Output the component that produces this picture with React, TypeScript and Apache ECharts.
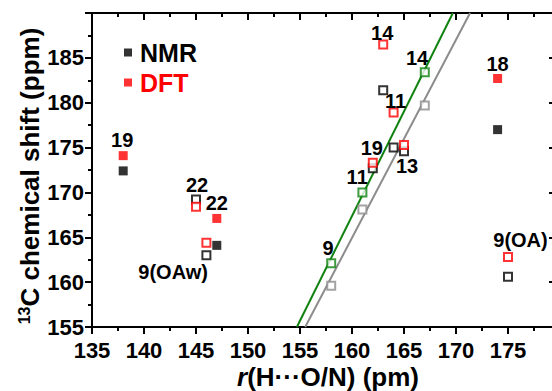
import React, { useEffect, useRef } from "react";
import * as echarts from "echarts";

// ---- data (x: r(H...O/N) in pm, y: 13C shift in ppm) ----
const nmrFilled: number[][] = [[138, 172.4], [147, 164.1], [174, 177.0]];
const dftFilled: number[][] = [[138, 174.1], [147, 167.1], [174, 182.7]];
const nmrOpen: number[][] = [
  [145, 169.2], [146, 163.0], [175, 160.6], [163, 181.4], [164, 175.0], [165, 174.6], [162, 172.7],
];
const dftOpen: number[][] = [
  [145, 168.4], [146, 164.4], [175, 162.8], [163, 186.5], [164, 178.9], [165, 175.3], [162, 173.3],
];
const greenOpen: number[][] = [[158, 162.1], [161, 170.0], [167, 183.4]];
const greyOpen: number[][] = [[158, 159.6], [161, 168.1], [167, 179.7]];
const greenFit: number[][] = [[154.7, 155], [169.7, 190]];
const greyFit: number[][] = [[155.5, 155], [171.35, 190]];
const pointLabels: (number | string)[][] = [
  [137.9, 175.8, "19"],
  [145.1, 170.8, "22"],
  [147.0, 168.8, "22"],
  [142.8, 161.1, "9(OAw)"],
  [162.9, 187.8, "14"],
  [166.25, 185.0, "14"],
  [164.2, 180.2, "11"],
  [161.9, 175.0, "19"],
  [165.3, 172.9, "13"],
  [160.5, 171.7, "11"],
  [157.7, 163.8, "9"],
  [174.0, 184.3, "18"],
  [176.2, 164.7, "9(OA)"],
];
const xMin = 135, xMax = 180, xStep = 5;
const yMin = 155, yMax = 190, yStep = 5;

const FONT = '"Liberation Sans", Arial, Helvetica, sans-serif';
const RED = "#ff0000";
const GREEN = "#0f820f";
const GREY = "#8c8c8c";

export default function App() {
  const ref = useRef<HTMLDivElement>(null);
  useEffect(() => {
    if (!ref.current) return;
    const chart = echarts.init(ref.current, undefined, { renderer: "svg" });
    const axisLine = { show: true, onZero: false, lineStyle: { color: "#000", width: 2 } };
    const openSeries = (name: string, data: number[][], color: string, z: number) => ({
      name, type: "scatter", data, symbol: "rect", symbolSize: 8, z,
      itemStyle: { color: "#fff", borderColor: color, borderWidth: 2 },
    });
    chart.setOption({
      animation: false,
      backgroundColor: "#fff",
      grid: { left: 92, top: 13, width: 468, height: 314 },
      legend: {
        left: 119, top: 35, orient: "vertical", itemWidth: 8, itemHeight: 8, itemGap: 5,
        icon: "rect", selectedMode: false,
        textStyle: { fontFamily: FONT, fontSize: 25, fontWeight: "bold", padding: [0, 0, 0, 3] },
        data: [
          { name: "NMR", textStyle: { color: "#000" } },
          { name: "DFT", textStyle: { color: RED } },
        ],
      },
      xAxis: [
        {
          type: "value", min: xMin, max: xMax, interval: xStep, position: "bottom",
          axisLine, splitLine: { show: false },
          axisTick: { show: true, inside: false, length: 7, lineStyle: { width: 2, color: "#000" } },
          minorTick: { show: true, splitNumber: 2, length: 4, lineStyle: { width: 2, color: "#000" } },
          axisLabel: { margin: 12, color: "#000", fontFamily: FONT, fontSize: 22, fontWeight: "bold", showMaxLabel: false },
        },
        {
          type: "value", min: xMin, max: xMax, interval: xStep, position: "top",
          axisLine, splitLine: { show: false },
          axisTick: { show: true, inside: true, length: 7, lineStyle: { width: 2, color: "#000" } },
          minorTick: { show: true, splitNumber: 2, length: 4, lineStyle: { width: 2, color: "#000" } },
          axisLabel: { show: false },
        },
      ],
      yAxis: [
        {
          type: "value", min: yMin, max: yMax, interval: yStep, position: "left",
          axisLine, splitLine: { show: false },
          axisTick: { show: true, inside: false, length: 7, lineStyle: { width: 2, color: "#000" } },
          minorTick: { show: true, splitNumber: 2, length: 4, lineStyle: { width: 2, color: "#000" } },
          axisLabel: { margin: 8, color: "#000", fontFamily: FONT, fontSize: 22, fontWeight: "bold", showMaxLabel: false },
        },
        {
          type: "value", min: yMin, max: yMax, interval: yStep, position: "right",
          axisLine, splitLine: { show: false },
          axisTick: { show: true, inside: true, length: 11, lineStyle: { width: 2, color: "#000" } },
          minorTick: { show: true, splitNumber: 2, length: 5, lineStyle: { width: 2, color: "#000" } },
          axisLabel: { show: false },
        },
      ],
      series: [
        { name: "greenFit", type: "line", data: greenFit, symbol: "none", z: 1, lineStyle: { color: GREEN, width: 2 } },
        { name: "greyFit", type: "line", data: greyFit, symbol: "none", z: 1, lineStyle: { color: GREY, width: 2 } },
        openSeries("nmrOpen", nmrOpen, "#000", 2),
        openSeries("dftOpen", dftOpen, RED, 3),
        openSeries("greenOpen", greenOpen, GREEN, 3),
        openSeries("greyOpen", greyOpen, GREY, 3),
        { name: "NMR", type: "scatter", data: nmrFilled, symbol: "rect", symbolSize: 9, z: 4, itemStyle: { color: "#000" } },
        { name: "DFT", type: "scatter", data: dftFilled, symbol: "rect", symbolSize: 9, z: 4, itemStyle: { color: RED } },
        {
          name: "labels", type: "scatter", data: pointLabels, symbolSize: 1, z: 5,
          itemStyle: { color: "rgba(255,255,255,0)" },
          label: {
            show: true, position: "inside", color: "#000", fontFamily: FONT, fontSize: 20, fontWeight: "bold",
            textBorderWidth: 0, opacity: 1,
            formatter: (p: any) => String(p.data[2]),
          },
        },
      ],
      graphic: [
        {
          type: "text", x: 30, y: 176, rotation: Math.PI / 2,
          style: {
            text: "{sup|13}{m|C chemical shift (ppm)}",
            align: "center", verticalAlign: "middle",
            rich: {
              sup: { fontFamily: FONT, fontSize: 16, fontWeight: "bold", fill: "#000", lineHeight: 16, verticalAlign: "top" },
              m: { fontFamily: FONT, fontSize: 26, fontWeight: "bold", fill: "#000", lineHeight: 28 },
            },
          },
        },
        {
          type: "text", x: 328, y: 377,
          style: {
            text: "{i|r}{m|(H···O/N) (pm)}",
            align: "center", verticalAlign: "middle",
            rich: {
              i: { fontFamily: FONT, fontSize: 26, fontWeight: "bold", fontStyle: "italic", fill: "#000", lineHeight: 26 },
              m: { fontFamily: FONT, fontSize: 26, fontWeight: "bold", fill: "#000", lineHeight: 26 },
            },
          },
        },
      ],
    });
    return () => chart.dispose();
  }, []);
  return (
    <div style={{ position: "fixed", left: 0, top: 0, width: 552, height: 391, overflow: "hidden", background: "#fff" }}>
      <div ref={ref} style={{ position: "absolute", left: 0, top: 0, width: 600, height: 391 }} />
    </div>
  );
}
